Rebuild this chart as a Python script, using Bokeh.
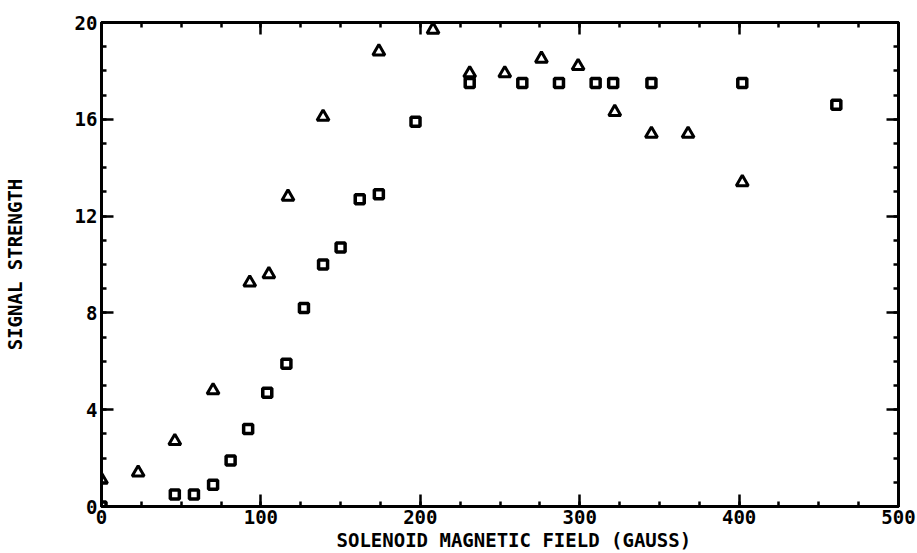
from bokeh.plotting import figure
from bokeh.models import Range1d, LinearAxis, SingleIntervalTicker, Title
from bokeh.embed import file_html
from bokeh.resources import INLINE

# ---- data ----
square_field = [0, 46, 58, 70, 81, 92, 104, 116, 127, 139, 150, 162, 174, 197,
                231, 264, 287, 310, 321, 345, 402, 461]
square_signal = [0.0, 0.5, 0.5, 0.9, 1.9, 3.2, 4.7, 5.9, 8.2, 10.0, 10.7, 12.7, 12.9, 15.9,
                 17.5, 17.5, 17.5, 17.5, 17.5, 17.5, 17.5, 16.6]
triangle_field = [0, 23, 46, 70, 93, 105, 117, 139, 174, 208, 231, 253, 276, 299,
                  322, 345, 368, 402]
triangle_signal = [1.1, 1.4, 2.7, 4.8, 9.25, 9.6, 12.8, 16.1, 18.8, 19.7, 17.9, 17.9, 18.5, 18.2,
                   16.3, 15.4, 15.4, 13.4]
x_title = "SOLENOID MAGNETIC FIELD (GAUSS)"
y_title = "SIGNAL STRENGTH"
x_limits = (0, 500)
y_limits = (0, 20)

FONT = "DejaVu Sans Mono"
FS = "19px"

p = figure(width=916, height=552,
           x_range=Range1d(*x_limits), y_range=Range1d(*y_limits),
           output_backend="svg", toolbar_location=None,
           x_axis_location=None, y_axis_location=None,
           min_border_left=101, min_border_right=18,
           min_border_top=22, min_border_bottom=46)
p.xgrid.visible = False
p.ygrid.visible = False
p.outline_line_color = "black"
p.outline_line_width = 3
p.background_fill_color = "white"
p.border_fill_color = "white"


def make_axis(interval, show_labels, standoff):
    ax = LinearAxis(
        ticker=SingleIntervalTicker(interval=interval, num_minor_ticks=4),
        axis_line_width=3, axis_line_color="black",
        major_tick_in=12, major_tick_out=0,
        minor_tick_in=5, minor_tick_out=0,
        major_tick_line_width=2.5, minor_tick_line_width=2.5,
        major_label_text_font=FONT, major_label_text_font_style="bold",
        major_label_text_font_size=FS if show_labels else "1px",
        major_label_text_color="black" if show_labels else None,
        major_label_standoff=standoff,
    )
    return ax


bottom = make_axis(100, True, 3)
top = make_axis(100, False, 0)
left = make_axis(4, True, 4)
right = make_axis(4, False, 0)

left.axis_label = y_title
left.axis_label_text_font = FONT
left.axis_label_text_font_style = "bold"
left.axis_label_text_font_size = FS
left.axis_label_text_color = "black"
left.axis_label_standoff = 46

p.add_layout(bottom, "below")
p.add_layout(top, "above")
p.add_layout(left, "left")
p.add_layout(right, "right")

p.add_layout(Title(text=x_title, align="left", offset=235, standoff=0,
                   text_font=FONT, text_font_style="bold", text_font_size=FS,
                   text_color="black"), "below")

p.scatter(square_field, square_signal, marker="square", size=9,
          line_color="black", line_width=3.5, fill_color="white")
p.scatter(triangle_field, triangle_signal, marker="triangle", size=12,
          line_color="black", line_width=3, fill_color="white")

open("out.html", "w").write(file_html(p, INLINE))
